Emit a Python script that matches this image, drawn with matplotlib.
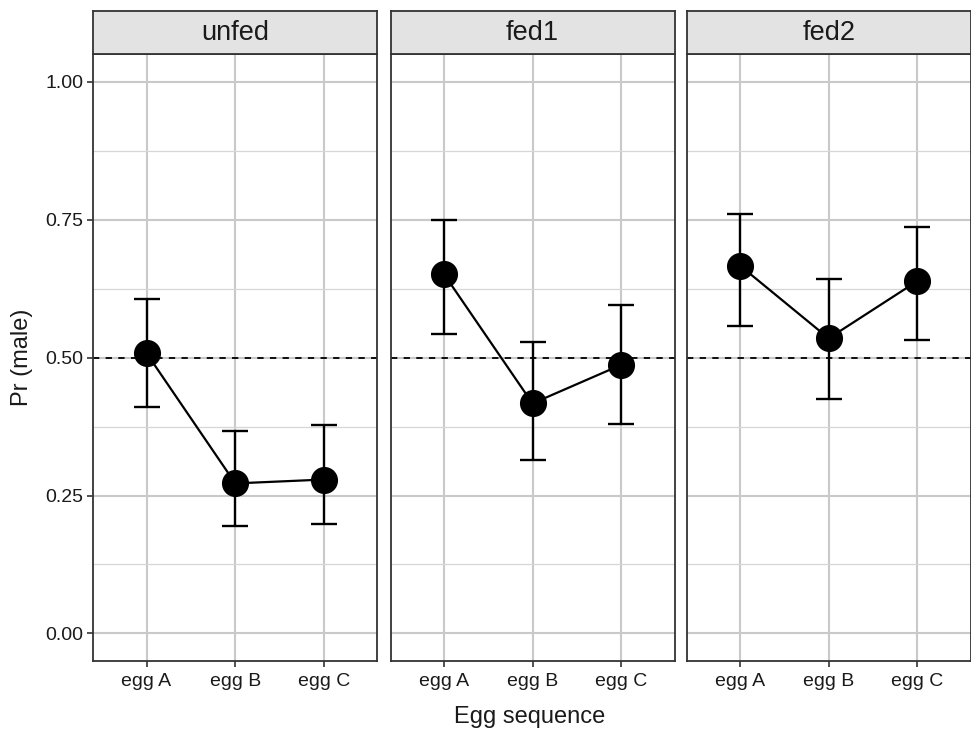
import matplotlib
matplotlib.use("Agg")
import matplotlib.pyplot as plt
from matplotlib.ticker import MultipleLocator

plt.rcParams['font.family'] = ['Liberation Sans', 'DejaVu Sans']

panels = ["unfed", "fed1", "fed2"]
eggs = ["egg A", "egg B", "egg C"]
means = {
    "unfed": [0.508, 0.272, 0.279],
    "fed1": [0.652, 0.417, 0.487],
    "fed2": [0.667, 0.535, 0.639],
}
lower = {
    "unfed": [0.410, 0.194, 0.198],
    "fed1": [0.542, 0.314, 0.379],
    "fed2": [0.558, 0.425, 0.532],
}
upper = {
    "unfed": [0.606, 0.367, 0.377],
    "fed1": [0.749, 0.529, 0.595],
    "fed2": [0.760, 0.642, 0.736],
}
yticks = [0.0, 0.25, 0.5, 0.75, 1.0]
ytick_labels = ["0.00", "0.25", "0.50", "0.75", "1.00"]

W, H = 971, 729
fig = plt.figure(figsize=(W / 100, H / 100), dpi=100)

lefts = [93.3, 390.5, 686.7]
pw = 284.0
strip_top, strip_bot, panel_bot = 10.7, 54.3, 661.0
border = "#333333"

for i, name in enumerate(panels):
    l = lefts[i]
    ax = fig.add_axes([l / W, 1 - panel_bot / H, pw / W, (panel_bot - strip_bot) / H])
    sax = fig.add_axes([l / W, 1 - strip_bot / H, pw / W, (strip_bot - strip_top) / H])
    sax.set_facecolor("#e3e3e3")
    sax.set_xticks([]); sax.set_yticks([])
    for s in sax.spines.values():
        s.set_color(border); s.set_linewidth(1.3)
    sax.text(0.5, 0.48, name, ha="center", va="center", fontsize=19.5,
             color="#1a1a1a", transform=sax.transAxes)

    x = list(range(1, len(eggs) + 1))
    m = means[name]
    yerr = [[m[k] - lower[name][k] for k in range(3)],
            [upper[name][k] - m[k] for k in range(3)]]
    ax.axhline(0.5, color="black", linestyle=(0, (3.5, 3.5)), linewidth=1.3, zorder=2)
    ax.plot(x, m, color="black", linewidth=1.6, zorder=3)
    ax.errorbar(x, m, yerr=yerr, fmt="none", ecolor="black", elinewidth=1.7,
                capsize=9.5, capthick=1.7, zorder=4)
    ax.plot(x, m, "o", color="black", markersize=18.5, zorder=5)

    ax.set_xlim(0.4, 3.6)
    ax.set_ylim(-0.05, 1.05)
    ax.set_xticks(x)
    ax.set_xticklabels(eggs)
    ax.set_yticks(yticks)
    ax.yaxis.set_minor_locator(MultipleLocator(0.125))
    ax.grid(True, which="major", color="#c9c9c9", linewidth=1.5, zorder=0)
    ax.grid(True, which="minor", axis="y", color="#d6d6d6", linewidth=0.9, zorder=0)
    ax.set_axisbelow(True)
    ax.tick_params(axis="both", which="major", length=4, width=1.2, color=border,
                   labelsize=14, labelcolor="#1a1a1a")
    ax.tick_params(axis="x", which="major", pad=5)
    ax.tick_params(axis="y", which="major", pad=3)
    ax.tick_params(axis="y", which="minor", length=0)
    if i == 0:
        ax.set_yticklabels(ytick_labels)
    else:
        ax.tick_params(axis="y", which="major", length=0, labelleft=False)
    for s in ax.spines.values():
        s.set_color(border); s.set_linewidth(1.3)

fig.text(530 / W, 1 - 717 / H, "Egg sequence", ha="center", va="center",
         fontsize=17, color="#1a1a1a")
fig.text(22 / W, 1 - 357 / H, "Pr (male)", ha="center", va="center",
         rotation=90, fontsize=17, color="#1a1a1a")

fig.savefig("out.png", dpi=100, facecolor="white")
